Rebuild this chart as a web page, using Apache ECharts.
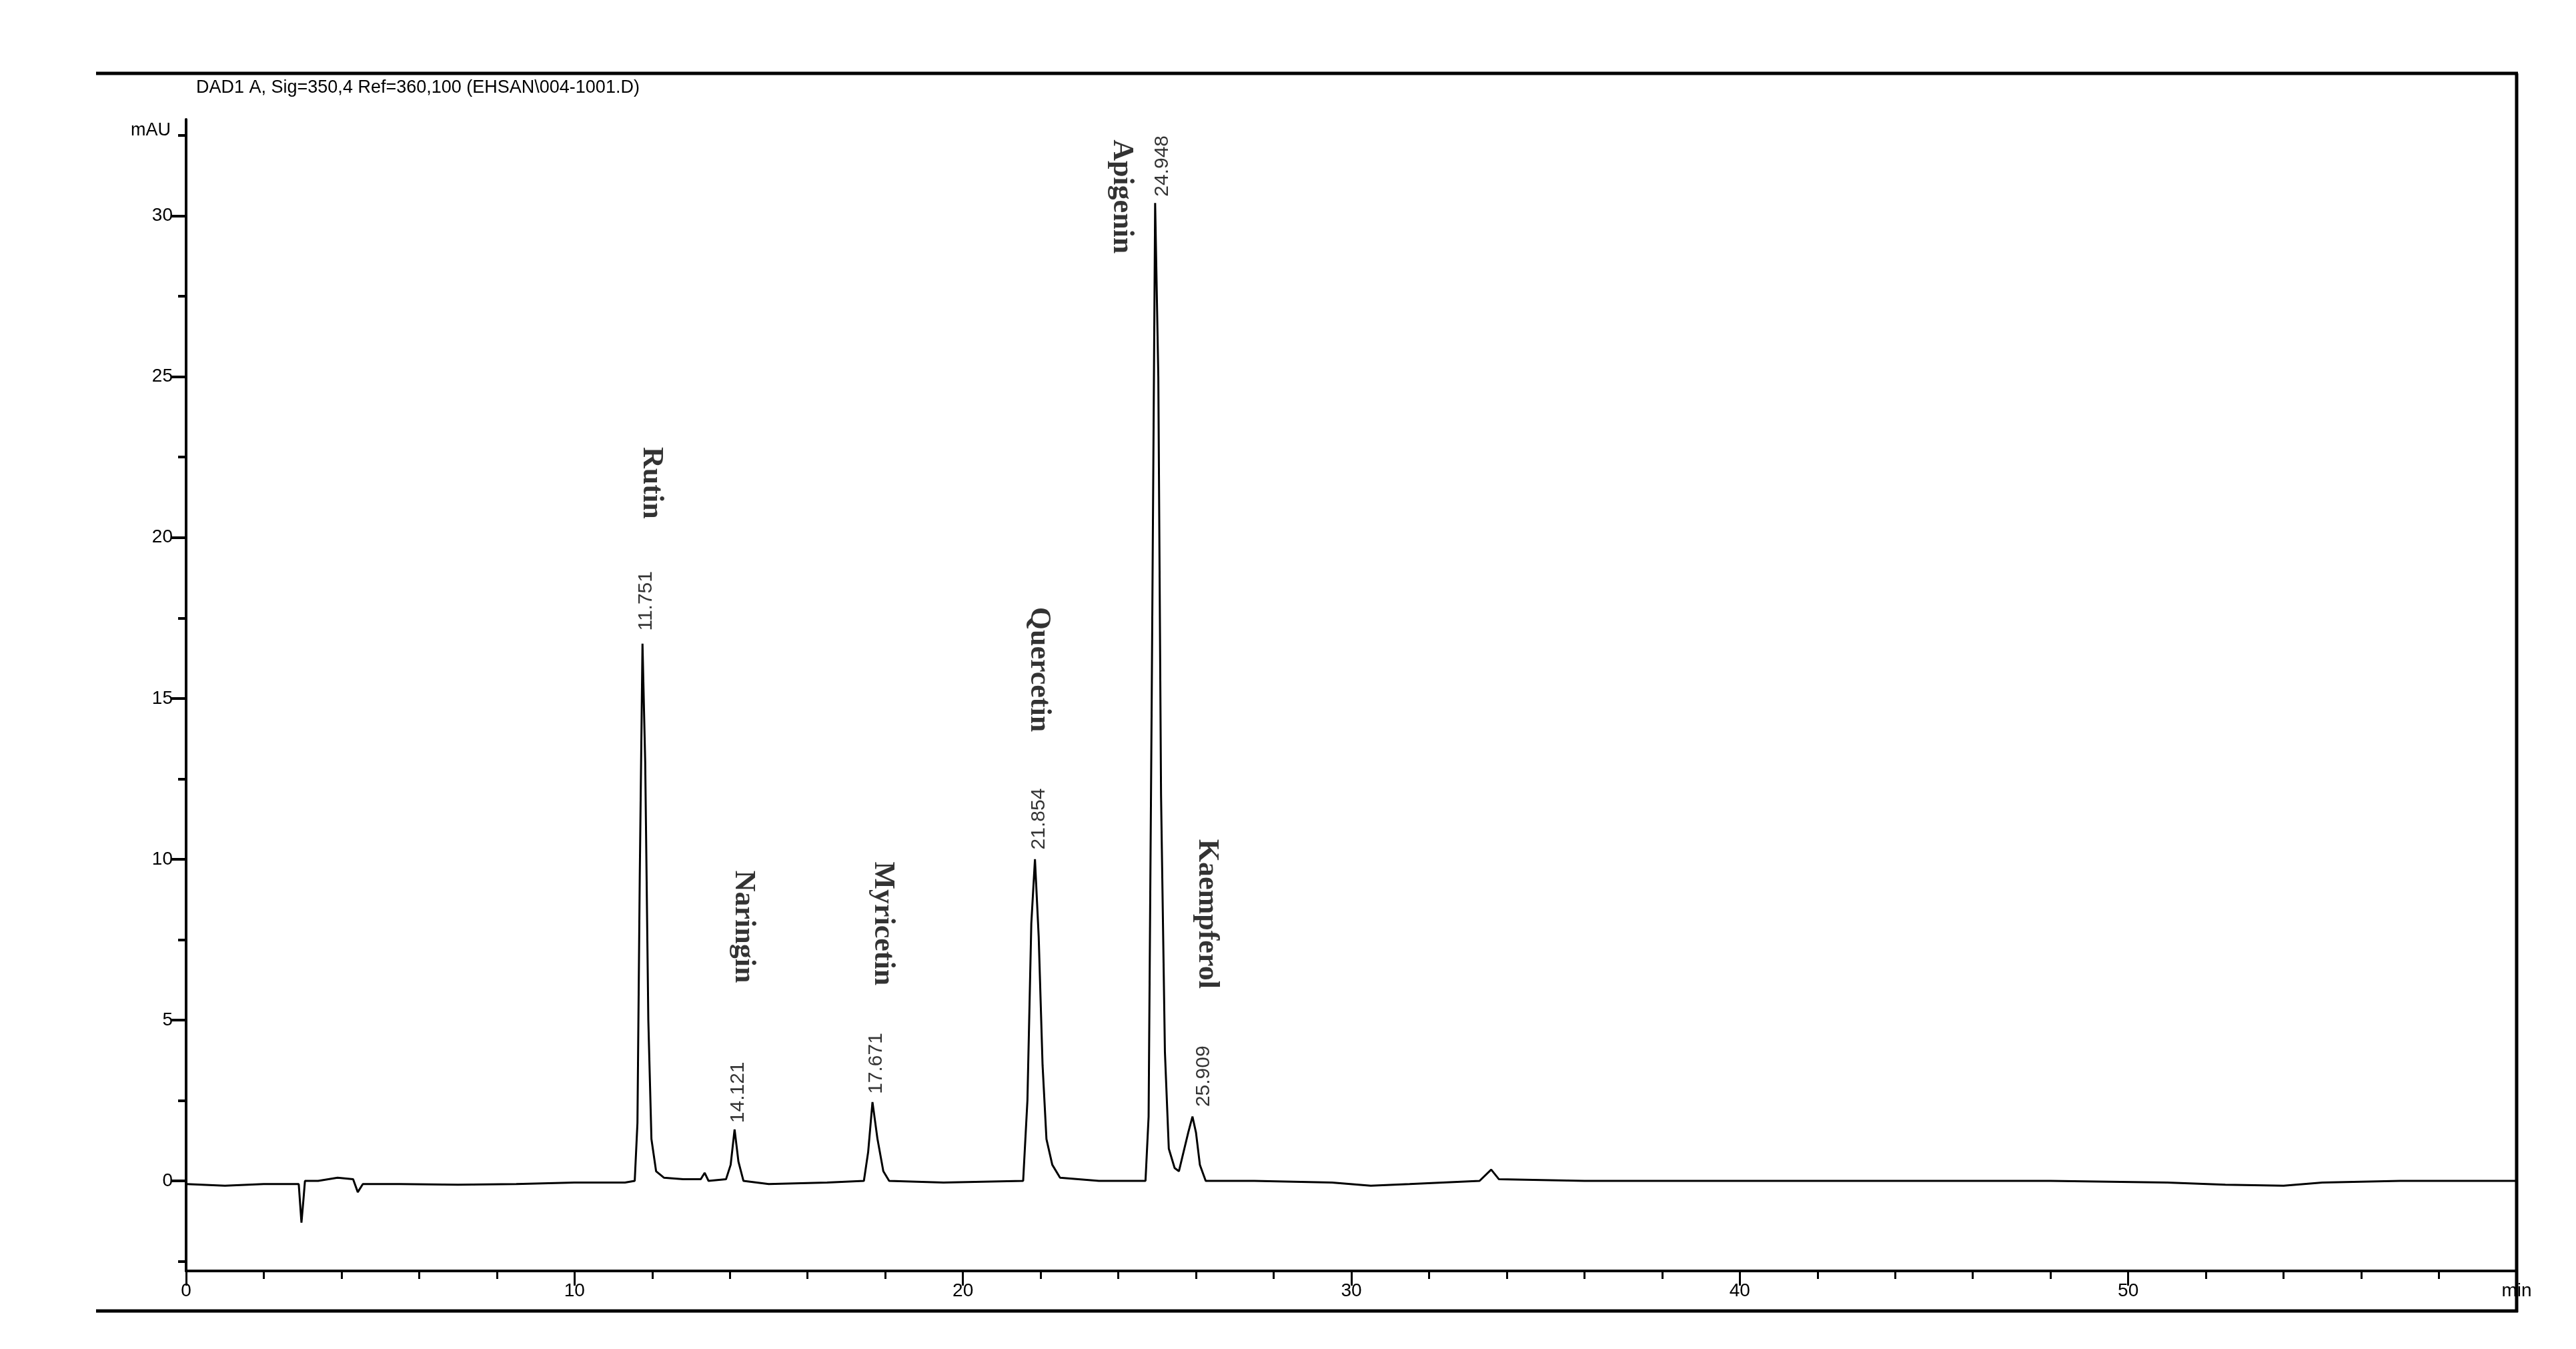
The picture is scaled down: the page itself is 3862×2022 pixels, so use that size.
<!DOCTYPE html>
<html>
<head>
<meta charset="utf-8">
<title>Chromatogram</title>
<script src="https://cdn.jsdelivr.net/npm/echarts@6/dist/echarts.min.js"></script>
<style>
  html, body { margin: 0; padding: 0; background: #fff; }
  #main { width: 3862px; height: 2022px; }
</style>
</head>
<body>
<div id="main"></div>
<script>
// trace: [time (min), signal (mAU)]
var trace = [
  [0, -0.1], [1.0, -0.15], [2.0, -0.1], [2.9, -0.1], [2.97, -1.3], [3.02, -0.6], [3.06, 0.0],
  [3.4, 0.0], [3.9, 0.1], [4.3, 0.05], [4.42, -0.35], [4.55, -0.1], [5.5, -0.1], [7.0, -0.12],
  [8.5, -0.1], [10.0, -0.05], [11.3, -0.05], [11.55, 0.0], [11.62, 1.8], [11.68, 9.5],
  [11.75, 16.7], [11.82, 13.0], [11.9, 5.0], [11.98, 1.3], [12.1, 0.3], [12.3, 0.1],
  [12.8, 0.05], [13.25, 0.05], [13.35, 0.25], [13.45, 0.0], [13.9, 0.05], [14.02, 0.5],
  [14.121, 1.6], [14.22, 0.6], [14.35, 0.0], [15.0, -0.1], [16.5, -0.05], [17.45, 0.0],
  [17.56, 0.9], [17.671, 2.45], [17.8, 1.3], [17.95, 0.3], [18.1, 0.0], [19.5, -0.05],
  [21.55, 0.0], [21.66, 2.5], [21.76, 8.0], [21.854, 10.0], [21.95, 7.6], [22.05, 3.6],
  [22.15, 1.3], [22.3, 0.5], [22.5, 0.1], [23.5, 0.0], [24.7, 0.0], [24.78, 2.0],
  [24.86, 15.0], [24.948, 30.4], [25.03, 25.0], [25.1, 12.0], [25.2, 4.0], [25.3, 1.0],
  [25.45, 0.4], [25.56, 0.3], [25.66, 0.8], [25.8, 1.5], [25.909, 2.0], [26.0, 1.5],
  [26.1, 0.5], [26.25, 0.0], [27.5, 0.0], [29.5, -0.05], [30.5, -0.15], [31.5, -0.1],
  [33.3, 0.0], [33.6, 0.35], [33.8, 0.05], [36.0, 0.0], [40.0, 0.0], [44.0, 0.0],
  [48.0, 0.0], [51.0, -0.05], [52.5, -0.12], [54.0, -0.15], [55.0, -0.05], [57.0, 0.0],
  [60.0, 0.0]
];

// retention time labels, anchored at the foot of the rotated text
var rtLabels = ['11.751', '14.121', '17.671', '21.854', '24.948', '25.909'];
var rtAnchors = [[11.85, 17.1], [14.22, 1.8], [17.77, 2.7], [21.96, 10.3], [25.14, 30.6], [26.2, 2.3]];

// compound names, anchored at the middle of the rotated text
var names = ['Rutin', 'Naringin', 'Myricetin', 'Quercetin', 'Apigenin', 'Kaempferol'];
var nameAnchors = [[11.98, 21.7], [14.35, 7.9], [17.94, 8.0], [21.96, 15.9], [24.08, 30.6], [26.28, 8.3]];

var yLabelValues = [0, 5, 10, 15, 20, 25, 30];
var yTickValues = [-2.5, 0, 2.5, 5, 7.5, 10, 12.5, 15, 17.5, 20, 22.5, 25, 27.5, 30, 32.5];
var xLabelValues = [0, 10, 20, 30, 40, 50, 60];
var xMinorValues = [2, 4, 6, 8, 12, 14, 16, 18, 22, 24, 26, 28, 32, 34, 36, 38, 42, 44, 46, 48, 52, 54, 56, 58];

var chart = echarts.init(document.getElementById('main'));
var tickFont = { color: '#000', fontFamily: 'Liberation Sans, Arial', fontSize: 28 };

var option = {
  backgroundColor: '#fff',
  animation: false,
  grid: { left: 279, right: 89, top: 179, bottom: 117 },
  xAxis: [{
    type: 'value', min: 0, max: 60,
    axisLine: { onZero: false, lineStyle: { color: '#000', width: 4 } },
    axisTick: { show: true, length: 22, lineStyle: { color: '#000', width: 3 }, customValues: [0, 10, 20, 30, 40, 50] },
    axisLabel: Object.assign({ customValues: xLabelValues, margin: 16,
      formatter: function (v) { return v === 60 ? 'min' : String(v); } }, tickFont),
    splitLine: { show: false }
  }, {
    type: 'value', min: 0, max: 60, position: 'bottom',
    axisLine: { show: false, onZero: false },
    axisTick: { show: true, length: 12, lineStyle: { color: '#000', width: 3 }, customValues: xMinorValues },
    axisLabel: { show: false },
    splitLine: { show: false }
  }],
  yAxis: [{
    type: 'value', min: -2.8, max: 33,
    axisLine: { show: true, onZero: false, lineStyle: { color: '#000', width: 4 } },
    axisTick: { show: true, length: 22, lineStyle: { color: '#000', width: 4 }, customValues: yLabelValues },
    axisLabel: Object.assign({ customValues: yLabelValues, margin: 20 }, tickFont),
    splitLine: { show: false }
  }, {
    type: 'value', min: -2.8, max: 33, position: 'left',
    axisLine: { show: false, onZero: false },
    axisTick: { show: true, length: 12, lineStyle: { color: '#000', width: 4 }, customValues: yTickValues },
    axisLabel: { show: false },
    splitLine: { show: false }
  }],
  graphic: [
    { type: 'line', shape: { x1: 144, y1: 110, x2: 3775, y2: 110 }, style: { stroke: '#000', lineWidth: 5 } },
    { type: 'line', shape: { x1: 3773, y1: 110, x2: 3773, y2: 1967 }, style: { stroke: '#000', lineWidth: 5 } },
    { type: 'line', shape: { x1: 144, y1: 1965, x2: 3775, y2: 1965 }, style: { stroke: '#000', lineWidth: 5 } },
    { type: 'text', left: 294, top: 118,
      style: { text: 'DAD1 A, Sig=350,4 Ref=360,100 (EHSAN\\004-1001.D)', fill: '#000',
        font: '27px "Liberation Sans", Arial' } },
    { type: 'text', left: 196, top: 182,
      style: { text: 'mAU', fill: '#000', font: '27px "Liberation Sans", Arial' } }
  ],
  series: [{
    type: 'line', data: trace, showSymbol: false, symbol: 'none',
    lineStyle: { color: '#000', width: 3 }
  }, {
    type: 'scatter', symbolSize: 0, silent: true,
    data: rtAnchors.map(function (p, i) { return { value: p, name: rtLabels[i] }; }),
    label: { show: true, position: 'inside', rotate: 90, align: 'left', verticalAlign: 'middle',
      formatter: '{b}', color: '#000', fontFamily: 'Liberation Sans, Arial', fontSize: 30 }
  }, {
    type: 'scatter', symbolSize: 0, silent: true,
    data: nameAnchors.map(function (p, i) { return { value: p, name: names[i] }; }),
    label: { show: true, position: 'inside', rotate: -90, align: 'center', verticalAlign: 'middle',
      formatter: '{b}', color: '#000', fontFamily: 'Liberation Serif, Times New Roman', fontWeight: 'bold', fontSize: 44 }
  }]
};

chart.setOption(option);
</script>
</body>
</html>
